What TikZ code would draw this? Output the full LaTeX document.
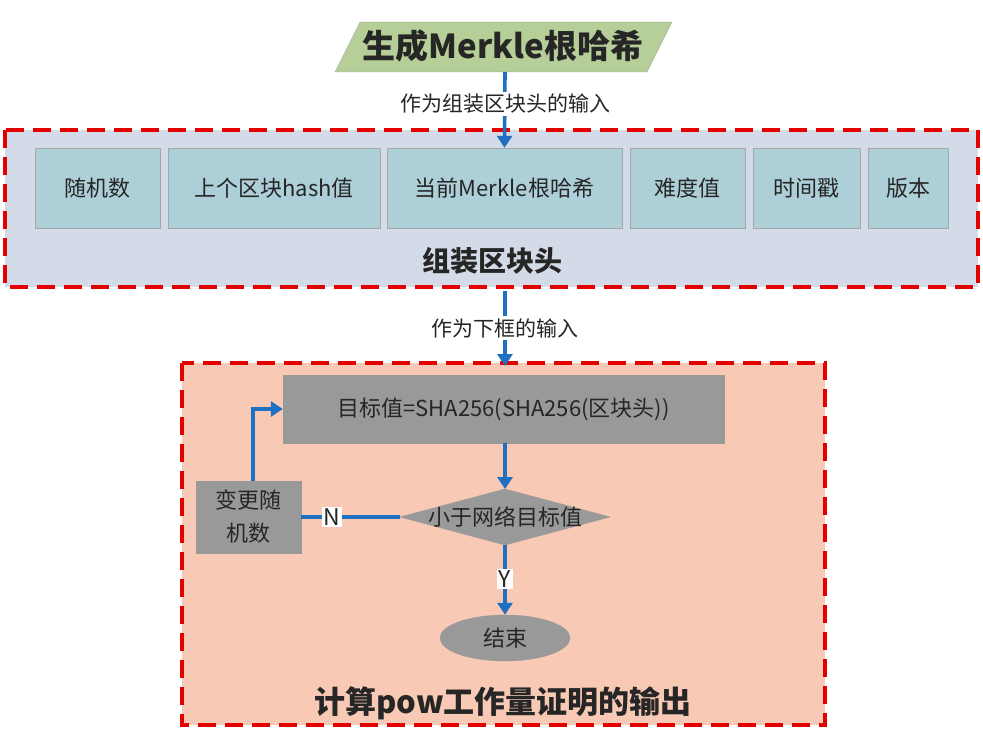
\documentclass[tikz,border=0pt]{standalone}
\usepackage{fontspec}
\setmainfont{Noto Sans CJK SC}
\usetikzlibrary{shapes.geometric,arrows.meta}
\definecolor{ablue}{HTML}{1F70C1}
\definecolor{hdrbg}{HTML}{D3DAE8}
\definecolor{fld}{HTML}{ADCFD8}
\definecolor{salmon}{HTML}{F8C9B4}
\definecolor{gbox}{HTML}{999999}
\definecolor{green1}{HTML}{B6CE97}
\definecolor{txt}{HTML}{262626}
\begin{document}
\begin{tikzpicture}[x=1pt,y=-1pt,
  arr/.style={draw=ablue,line width=3.6pt,-{Triangle[length=12pt,width=15pt]}},
  ln/.style={draw=ablue,line width=3.6pt},
  fldb/.style={draw=gray!70,fill=fld,text=txt,font=\fontsize{22}{26}\selectfont},
  gb/.style={draw=gray!80,fill=gbox,text=txt,font=\fontsize{22}{26}\selectfont},
  frame/.style={draw=red!90!black,line width=3.2pt,dash pattern=on 18pt off 9pt},
  lbl/.style={fill=white,inner sep=2pt,text=txt,font=\fontsize{21}{24}\selectfont}]
\useasboundingbox (0,0) rectangle (983,730);
\fill[white] (0,0) rectangle (983,730);
\filldraw[draw=gray!70,fill=green1] (360,22) -- (672,22) -- (647,72) -- (335,72) -- cycle;
\node[font=\bfseries\fontsize{33}{38}\selectfont,text=txt] (toptxt) at (503,46) {生成Merkle根哈希};
\fill[hdrbg] (5,130) rectangle (978,287);
\draw[frame] (5,130) rectangle (978,287);
\node[fldb,minimum width=125,minimum height=80] (f1) at (97.5,188) {随机数};
\node[fldb,minimum width=212,minimum height=80] (f2) at (274,188) {上个区块hash值};
\node[fldb,minimum width=235,minimum height=80] (f3) at (504.5,188) {当前Merkle根哈希};
\node[fldb,minimum width=115,minimum height=80] (f4) at (687.5,188) {难度值};
\node[fldb,minimum width=107,minimum height=80] (f5) at (806.5,188) {时间戳};
\node[fldb,minimum width=80,minimum height=80] (f6) at (908,188) {版本};
\node[font=\bfseries\fontsize{28}{32}\selectfont,text=txt] (hdr) at (492,261) {组装区块头};
\coordinate (a1) at (505,72);
\draw[arr] (a1) -- (f3.north);
\node[lbl] at (505,104) {作为组装区块头的输入};
\fill[salmon] (182,363) rectangle (825,725);
\draw[frame] (182,363) rectangle (825,725);
\coordinate (a2) at (505,291);
\coordinate (a2e) at (505,366);
\draw[arr] (a2) -- (a2e);
\node[lbl] at (505,328) {作为下框的输入};
\node[gb,minimum width=441,minimum height=68] (hash) at (503.5,409) {目标值=SHA256(SHA256(区块头))};
\filldraw[draw=gray!80,fill=gbox] (400,517) -- (505,489) -- (610,517) -- (505,545) -- cycle;
\coordinate (diaN) at (505,489);
\coordinate (diaS) at (505,545);
\coordinate (diaW) at (400,517);
\node[text=txt,font=\fontsize{22}{26}\selectfont] (dia) at (505,517) {小于网络目标值};
\node[gb,minimum width=105,minimum height=72,align=center,inner sep=1pt,font=\fontsize{22}{33}\selectfont] (chg) at (248.5,517) {变更随\\机数};
\node[gb,ellipse,minimum width=130,minimum height=46] (end) at (505,638) {结束};
\draw[arr] (hash.south -| diaN) -- (diaN);
\draw[arr] (diaS) -- (end.north);
\node[lbl,font=\fontsize{23}{26}\selectfont] at (505,579) {Y};
\draw[ln] (diaW) -- (chg.east);
\node[lbl,font=\fontsize{23}{26}\selectfont,inner sep=1.5pt] at (332,517) {N};
\draw[arr] (chg.north -| 253,0) |- (hash.west);
\node[font=\bfseries\fontsize{31}{36}\selectfont,text=txt] (pow) at (503,703) {计算pow工作量证明的输出};
\end{tikzpicture}
\end{document}
